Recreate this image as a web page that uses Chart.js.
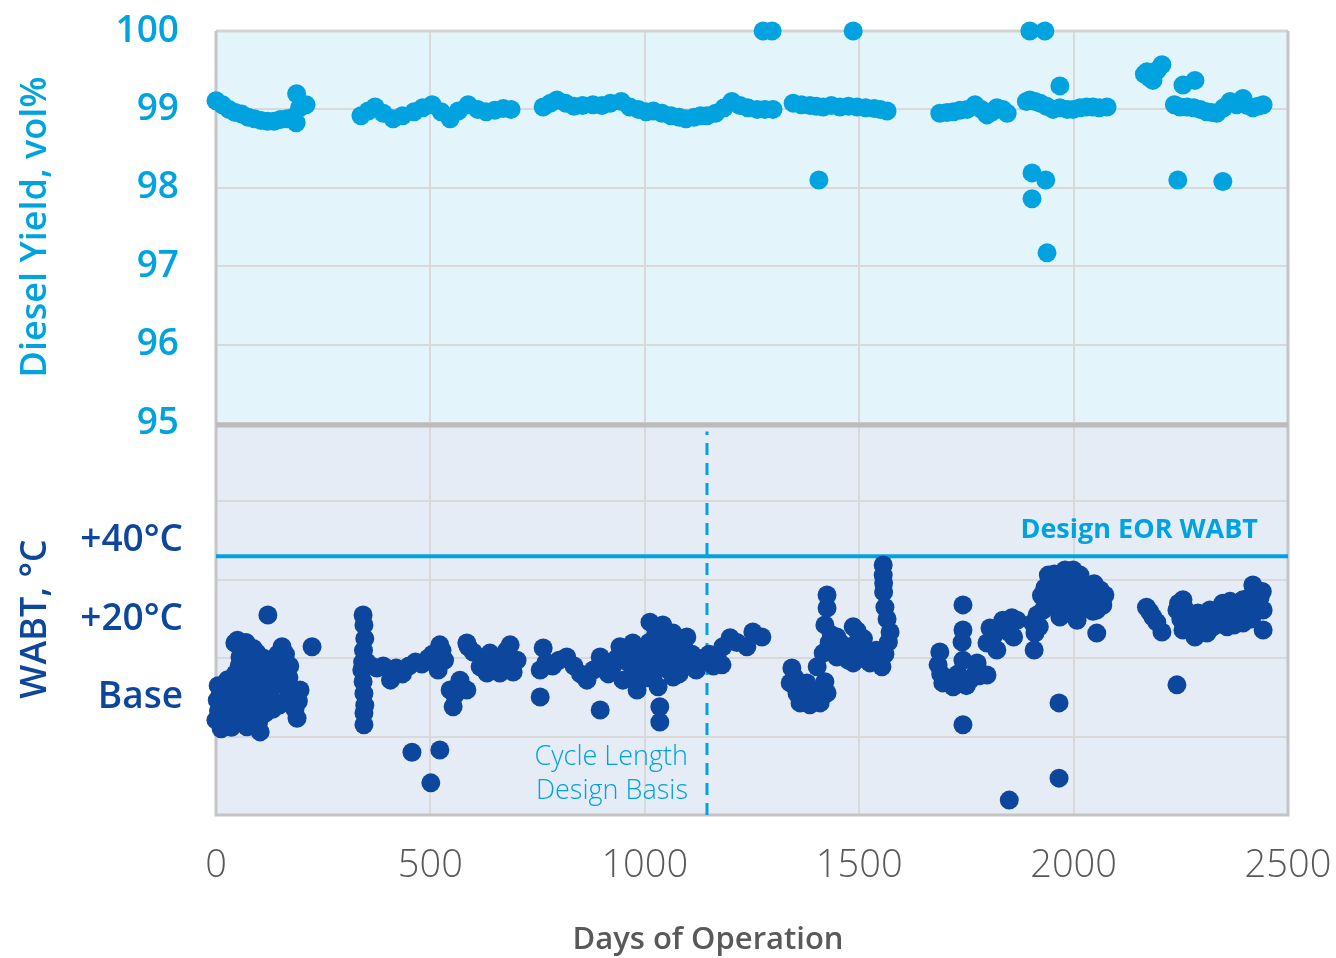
<!DOCTYPE html>
<html>
<head>
<meta charset="utf-8">
<title>Diesel Yield and WABT vs Days of Operation</title>
<script src="https://cdn.jsdelivr.net/npm/chart.js@4.4.0/dist/chart.umd.min.js"></script>
<style>
  html, body { margin: 0; padding: 0; background: #ffffff; }
  canvas { display: block; }
</style>
</head>
<body>
<canvas id="chart" width="1336" height="958"></canvas>
<script>
// diesel yield, vol% (top panel)
const yieldDays = [
  0, 15, 30, 45, 60, 75, 90, 105, 120, 135, 150, 165, 180, 187, 188, 195, 210,
  338, 355, 371, 390, 413, 435, 462, 482, 504, 525, 546, 565, 588, 610, 630, 650, 670, 688,
  763, 780, 795, 815, 835, 855, 879, 900, 920, 945, 965, 985, 1003, 1020, 1040, 1061, 1080, 1096, 1115, 1130, 1145, 1165, 1185, 1203, 1222, 1240, 1262, 1280, 1299,
  1276, 1297, 1486, 1406,
  1346, 1365, 1385, 1400, 1416, 1435, 1455, 1475, 1495, 1515, 1535, 1549, 1565,
  1688, 1705, 1720, 1735, 1752, 1770, 1785, 1798, 1810, 1821, 1835, 1845,
  1890, 1898, 1910, 1922, 1937, 1952, 1968, 1985, 1999, 2015, 2030, 2045, 2060, 2078,
  1898, 1933, 1968, 1903, 1935, 1903, 1938,
  2165, 2171, 2178, 2185, 2195, 2206, 2255, 2283,
  2235, 2248, 2265, 2280, 2295, 2310, 2322, 2334, 2350, 2365, 2380, 2395, 2405, 2418, 2430, 2442,
  2243, 2348
];
const yieldValues = [
  99.11, 99.06, 99.00, 98.96, 98.94, 98.90, 98.88, 98.86, 98.85, 98.85, 98.87, 98.88, 98.90, 98.83, 99.20, 99.02, 99.06,
  98.92, 98.98, 99.03, 98.95, 98.88, 98.92, 98.97, 99.02, 99.06, 98.97, 98.88, 98.98, 99.06, 99.00, 98.97, 98.99, 99.01, 99.00,
  99.03, 99.08, 99.12, 99.08, 99.04, 99.05, 99.06, 99.05, 99.08, 99.10, 99.03, 99.00, 98.97, 98.98, 98.95, 98.92, 98.90, 98.88, 98.90, 98.92, 98.92, 98.95, 99.02, 99.10, 99.05, 99.02, 99.00, 99.00, 99.00,
  100, 100, 100, 98.10,
  99.08, 99.06, 99.05, 99.04, 99.03, 99.05, 99.03, 99.04, 99.03, 99.02, 99.01, 99.00, 98.98,
  98.95, 98.96, 98.97, 98.99, 99.00, 99.06, 99.00, 98.93, 98.97, 99.02, 99.00, 98.95,
  99.10, 99.12, 99.10, 99.08, 99.04, 99.00, 99.02, 99.00, 99.00, 99.02, 99.03, 99.03, 99.02, 99.03,
  100, 100, 99.30, 98.19, 98.10, 97.86, 97.17,
  99.45, 99.48, 99.40, 99.37, 99.50, 99.57, 99.31, 99.37,
  99.06, 99.03, 99.03, 99.02, 99.00, 98.97, 98.96, 98.95, 99.02, 99.10, 99.06, 99.14, 99.05, 99.02, 99.04, 99.06,
  98.10, 98.08
];

// WABT, degC above base (bottom panel)
const wabtDays = [
  0, 3, 6, 10, 14, 18, 22, 27, 31, 36, 40, 44, 47, 50, 54, 56, 60, 62, 66, 70, 72, 76, 80, 83, 87, 90, 96, 98, 103, 107,
  111, 115, 119, 121, 125, 130, 134, 139, 144, 149, 154, 158, 165, 170, 175, 180, 184, 189, 192, 196, 224,
  5, 12, 20, 26, 33, 38, 45, 52, 58, 64, 68, 74, 78, 85, 92, 100, 105, 112, 117, 128, 132, 137, 142, 147, 152, 162, 168, 172,
  343, 345, 347, 344, 342, 340, 343, 345, 347, 345, 345,
  352, 362, 375, 390, 405, 407, 420, 435, 450, 465, 480, 495, 505, 515, 522, 527, 533, 518,
  457, 522, 501,
  546, 553, 557, 569, 575, 585,
  588, 585, 600, 616, 625, 639, 632, 650, 662, 668, 678, 686, 693, 702,
  756, 756, 763, 770, 785, 800, 818, 835, 850, 865, 880, 896, 896, 910, 925, 942, 949, 960, 960, 972, 982, 990, 990, 1000, 1005,
  1012, 1020, 1020, 1028, 1031, 1035, 1035, 1042, 1045, 1050, 1055, 1060, 1066, 1066, 1075, 1080, 1085, 1090, 1098, 1105,
  1112, 1125, 1145, 1160, 1180, 1182, 1199, 1215, 1238, 1252, 1273,
  1010, 1015, 1025, 1038, 1048, 1058, 1070, 1078, 1088, 1095, 1110, 1120, 1135, 1150, 1170, 975, 965, 955, 935, 915,
  1339, 1343, 1350, 1355, 1362, 1370, 1378, 1385, 1395, 1402, 1409, 1415, 1420, 1425,
  1416, 1420, 1425, 1425, 1430, 1448, 1448, 1460, 1475, 1486, 1486, 1495, 1505, 1518, 1525, 1535, 1545, 1553,
  1435, 1440, 1455, 1468, 1480, 1490, 1500, 1510, 1540,
  1556, 1556, 1557, 1557, 1560, 1565, 1572, 1568, 1560,
  1684, 1688, 1690, 1695, 1705, 1719, 1730, 1740, 1742, 1742, 1742, 1750, 1758, 1770, 1775, 1780, 1798,
  1742, 1850,
  1798, 1805, 1815, 1821, 1835, 1845, 1852, 1856, 1860, 1868,
  1905, 1908, 1910, 1920, 1929, 1938, 1941, 1950, 1960, 1963, 1968, 1975, 1985, 1999, 2008, 2015, 2025, 2035, 2035, 2045,
  2054, 2054, 2062, 2073,
  1915, 1925, 1933, 1945, 1955, 1958, 1970, 1980, 1990, 1995, 2003, 2010, 2020, 2030, 2040, 2048, 2058, 2068, 1985, 2000,
  1966, 1966,
  2170, 2178, 2185, 2194, 2206,
  2241, 2245, 2255, 2255, 2265, 2278, 2283, 2295, 2311, 2318, 2330, 2348, 2358, 2370, 2380, 2395, 2395, 2405, 2418, 2425,
  2435, 2442, 2442,
  2250, 2260, 2270, 2290, 2300, 2305, 2325, 2335, 2340, 2355, 2365, 2375, 2385, 2400, 2410, 2415, 2430, 2440,
  2241
];
const wabtValues = [
  -5.8, -0.7, -3.5, 0.5, -6.5, 2.5, -4, 4.5, -1, -7.6, 4.4, 13.9, -2, 14.6, 8, 10.3, 13, -5, 1.5, 14, -7.5, 10.5, 7, 3, 12.5, -3, 11.3, 1, -8.8, 6,
  10, -4, 8.8, 21, 2, 5, -1, 8, 11, 4, 12.9, 9, 8.8, 5, 2, 1.9, -3, -5.3, -1, 1.9, 12.9,
  3, -8, -1.5, 1, -5, 0, 6, 3.5, -3, 12, 4, -2, 12.5, 0, 6.5, -6, 3.5, -1.5, 5, 9, -3, 3, 6, -2, 8, 11, 0, 8,
  21, 18.5, 15, 12, 9, 7, 4, 1, -2, -4, -7,
  9, 8, 7.5, 8, 7, 4.4, 7.5, 6, 8, 9, 8.5, 10, 11, 9, 13.4, 12, 9.5, 7,
  -14, -13.4, -21.8,
  1.9, -2.4, 0.6, 4.4, 2.5, 1.9,
  12.9, 13.9, 11.5, 7.8, 9, 11.3, 6.2, 9, 6.2, 9.5, 12, 13.4, 6.5, 9.5,
  7, 0.1, 12.6, 9, 8, 9.5, 10.3, 8, 6, 4.4, 7, 10.3, -3.2, 9, 8, 12.9, 4.4, 9, 12, 13.9, 1.9, 6, 11, 10, 5,
  19.2, 14, 6, 10.3, 2.7, -2.4, -6.3, 18.5, 8, 12, 7, 13, 16.4, 5.2, 10, 6, 12, 10.5, 15.4, 9,
  7.8, 10, 9.5, 8, 8.3, 12.9, 15.2, 14, 12.9, 16.7, 15.4,
  14, 9, 16, 12, 15.5, 10, 13, 15, 7.5, 12, 11, 7, 9.5, 11, 9.5, 8, 5, 11, 10, 6,
  3.7, 7.5, 5, 1, -1.4, 2, 3.7, -1.9, 0.5, 7.8, -1.4, 2, 4, 1.1,
  11.3, 18.5, 22.8, 26.1, 14, 15.4, 10.3, 12, 9.5, 18, 8.8, 17, 13, 12.1, 8.8, 10, 9, 7.8,
  16, 12.5, 14, 11, 13, 12, 10, 15, 12,
  33.8, 31.2, 29.2, 26.9, 23, 20, 16.7, 14.1, 11,
  8.3, 11.6, 6, 3.7, 5, 2.7, 6, 14.1, 23.6, 17.2, 9.5, 3, 4.4, 6, 8.8, 5.5, 5.7,
  -7, -26.2,
  13.9, 17.7, 16, 12.1, 19.7, 17, 16.4, 20.3, 15.4, 19.7,
  19, 12.1, 16.4, 18, 22.3, 25.6, 31.2, 26.6, 29, 24.9, 20.5, 30.7, 26, 32.5, 19.7, 31.2, 24, 28.2, 23, 22,
  22.3, 16.4, 27.4, 26.1,
  21, 26, 28, 29.5, 31.5, 23, 27, 32.5, 29, 24, 27, 28.5, 29, 25, 26.5, 29, 25, 23.5, 21.5, 22,
  -1.4, -20.6,
  23, 21.8, 20.5, 19.2, 16.7,
  22.3, 24, 24.9, 17.2, 20, 20.5, 15.4, 19, 16.4, 22.3, 20, 24, 18, 21, 20, 19, 24.9, 22, 28.7, 26,
  25.6, 22.3, 17.2,
  20, 22.5, 17.5, 21.5, 17, 20.5, 18, 22, 19, 22, 24.5, 18.5, 23, 21, 25.5, 20, 23.5, 27,
  3.2
];

const eorWabt = 36;          // Design EOR WABT, degC above base
const cycleLengthDay = 1145; // cycle length design basis
const dayTicks = [0, 500, 1000, 1500, 2000, 2500];
const yieldTicks = [95, 96, 97, 98, 99, 100];
const wabtTickValues = [0, 20, 40];
const wabtTickLabels = ['Base', '+20°C', '+40°C'];
const wabtGridValues = [-10, 10, 30, 50];

const CYAN = '#00A3DF';
const NAVY = '#0D479D';
const GRID = '#D9D9D9';

function toPoints(xs, ys) {
  return xs.map((x, i) => ({ x: x, y: ys[i] }));
}

// keep label overhang from pushing the plot area around
function noEdgePadding(s) {
  s.paddingTop = 0;
  s.paddingBottom = 0;
  s.paddingLeft = 0;
  s.paddingRight = 0;
}

const panelPlugin = {
  id: 'panels',
  beforeDraw(chart) {
    const { ctx, chartArea: a, scales } = chart;
    ctx.save();
    ctx.fillStyle = '#E3F4FB';
    ctx.fillRect(a.left, scales.yTop.top, a.right - a.left, scales.yTop.bottom - scales.yTop.top);
    ctx.fillStyle = '#E5ECF6';
    ctx.fillRect(a.left, scales.yBot.top, a.right - a.left, scales.yBot.bottom - scales.yBot.top);
    ctx.restore();
  },
  beforeDatasetsDraw(chart) {
    const { ctx, chartArea: a, scales } = chart;
    ctx.save();
    // frame
    ctx.strokeStyle = '#D3D3D3';
    ctx.lineWidth = 3;
    ctx.beginPath();
    ctx.moveTo(a.left, a.top);
    ctx.lineTo(a.right, a.top);
    ctx.stroke();
    ctx.strokeStyle = '#C4C4C4';
    ctx.beginPath();
    ctx.moveTo(a.right, a.top);
    ctx.lineTo(a.right, a.bottom);
    ctx.lineTo(a.left, a.bottom);
    ctx.lineTo(a.left, a.top);
    ctx.stroke();
    // separator between the two panels
    ctx.strokeStyle = '#BBBBBB';
    ctx.lineWidth = 5;
    ctx.beginPath();
    ctx.moveTo(a.left, scales.yTop.bottom + 2);
    ctx.lineTo(a.right, scales.yTop.bottom + 2);
    ctx.stroke();
    ctx.restore();
  },
  afterDatasetsDraw(chart) {
    const { ctx, chartArea: a, scales } = chart;
    const yb = scales.yBot;
    ctx.save();
    ctx.fillStyle = CYAN;
    ctx.textAlign = 'right';
    ctx.textBaseline = 'middle';
    ctx.font = '700 27px "Open Sans"';
    ctx.fillText('Design EOR WABT', a.right - 30, yb.getPixelForValue(eorWabt) - 26);
    ctx.font = '300 27px "Open Sans"';
    const lx = scales.x.getPixelForValue(cycleLengthDay) - 19;
    ctx.fillText('Cycle Length', lx, yb.bottom - 58);
    ctx.fillText('Design Basis', lx, yb.bottom - 24);
    // x axis title, sits a little left of the plot centre in the original
    ctx.fillStyle = '#595959';
    ctx.textAlign = 'center';
    ctx.font = '600 31px "Open Sans"';
    ctx.fillText('Days of Operation', (a.left + a.right) / 2 - 44, chart.height - 18);
    ctx.restore();
  }
};

new Chart(document.getElementById('chart').getContext('2d'), {
  type: 'scatter',
  data: {
    datasets: [
      {
        label: 'Diesel Yield',
        data: toPoints(yieldDays, yieldValues),
        yAxisID: 'yTop',
        backgroundColor: CYAN,
        borderColor: CYAN,
        pointRadius: 9.5,
        pointBorderWidth: 0,
        clip: false,
        order: 1
      },
      {
        label: 'WABT',
        data: toPoints(wabtDays, wabtValues),
        yAxisID: 'yBot',
        backgroundColor: NAVY,
        borderColor: NAVY,
        pointRadius: 9.5,
        pointBorderWidth: 0,
        clip: false,
        order: 1
      },
      {
        label: 'Design EOR WABT',
        type: 'line',
        data: [{ x: 0, y: eorWabt }, { x: 2500, y: eorWabt }],
        yAxisID: 'yBot',
        borderColor: CYAN,
        borderWidth: 4,
        pointRadius: 0,
        order: 3
      },
      {
        label: 'Cycle Length Design Basis',
        type: 'line',
        data: [{ x: cycleLengthDay, y: -30 }, { x: cycleLengthDay, y: 67.8 }],
        yAxisID: 'yBot',
        borderColor: CYAN,
        borderWidth: 3,
        borderDash: [12, 8],
        pointRadius: 0,
        order: 3
      }
    ]
  },
  options: {
    responsive: false,
    animation: false,
    layout: { padding: { top: 31, right: 48, left: 0, bottom: 0 } },
    plugins: {
      legend: { display: false },
      tooltip: { enabled: false }
    },
    scales: {
      x: {
        type: 'linear',
        min: 0,
        max: 2500,
        afterBuildTicks: (s) => { s.ticks = dayTicks.map(v => ({ value: v })); },
        afterFit: (s) => { s.height = 143; noEdgePadding(s); },
        grid: { color: GRID, lineWidth: 2, drawTicks: false },
        border: { display: false },
        ticks: {
          padding: 28,
          autoSkip: false,
          color: '#595959',
          font: { family: 'Open Sans', size: 38, weight: '300' },
          maxRotation: 0,
          callback: (v) => String(v)
        },
        title: { display: false, text: 'Days of Operation' }
      },
      yTop: {
        type: 'linear',
        position: 'left',
        stack: 'panels',
        stackWeight: 1,
        weight: 2,
        min: 95,
        max: 100,
        afterBuildTicks: (s) => { s.ticks = yieldTicks.map(v => ({ value: v })); },
        afterFit: (s) => { s.width = 216; noEdgePadding(s); },
        grid: { color: GRID, lineWidth: 2, drawTicks: false },
        border: { display: false },
        ticks: {
          padding: 37,
          autoSkip: false,
          color: CYAN,
          font: { family: 'Open Sans', size: 37, weight: '600' }
        },
        title: {
          display: true,
          text: 'Diesel Yield, vol%',
          color: CYAN,
          font: { family: 'Open Sans', size: 36, weight: '600' },
          padding: { top: 14, bottom: 0 }
        }
      },
      yBot: {
        type: 'linear',
        position: 'left',
        stack: 'panels',
        stackWeight: 1,
        weight: 1,
        min: -30,
        max: 70,
        afterBuildTicks: (s) => {
          const vals = [-30].concat(wabtGridValues, wabtTickValues, [70]).sort((p, q) => p - q);
          s.ticks = vals.map(v => ({ value: v }));
        },
        afterFit: (s) => { s.width = 216; noEdgePadding(s); },
        grid: {
          lineWidth: 2,
          drawTicks: false,
          color: (c) => (c.tick && wabtGridValues.includes(c.tick.value)) ? GRID : 'rgba(0,0,0,0)'
        },
        border: { display: false },
        ticks: {
          padding: 33,
          autoSkip: false,
          color: NAVY,
          font: { family: 'Open Sans', size: 37, weight: '600' },
          callback: (v) => {
            const i = wabtTickValues.indexOf(v);
            return i >= 0 ? wabtTickLabels[i] : '';
          }
        },
        title: {
          display: true,
          text: 'WABT, °C',
          color: NAVY,
          font: { family: 'Open Sans', size: 36, weight: '600' },
          padding: { top: 14, bottom: 0 }
        }
      }
    }
  },
  plugins: [panelPlugin]
});
</script>
</body>
</html>
